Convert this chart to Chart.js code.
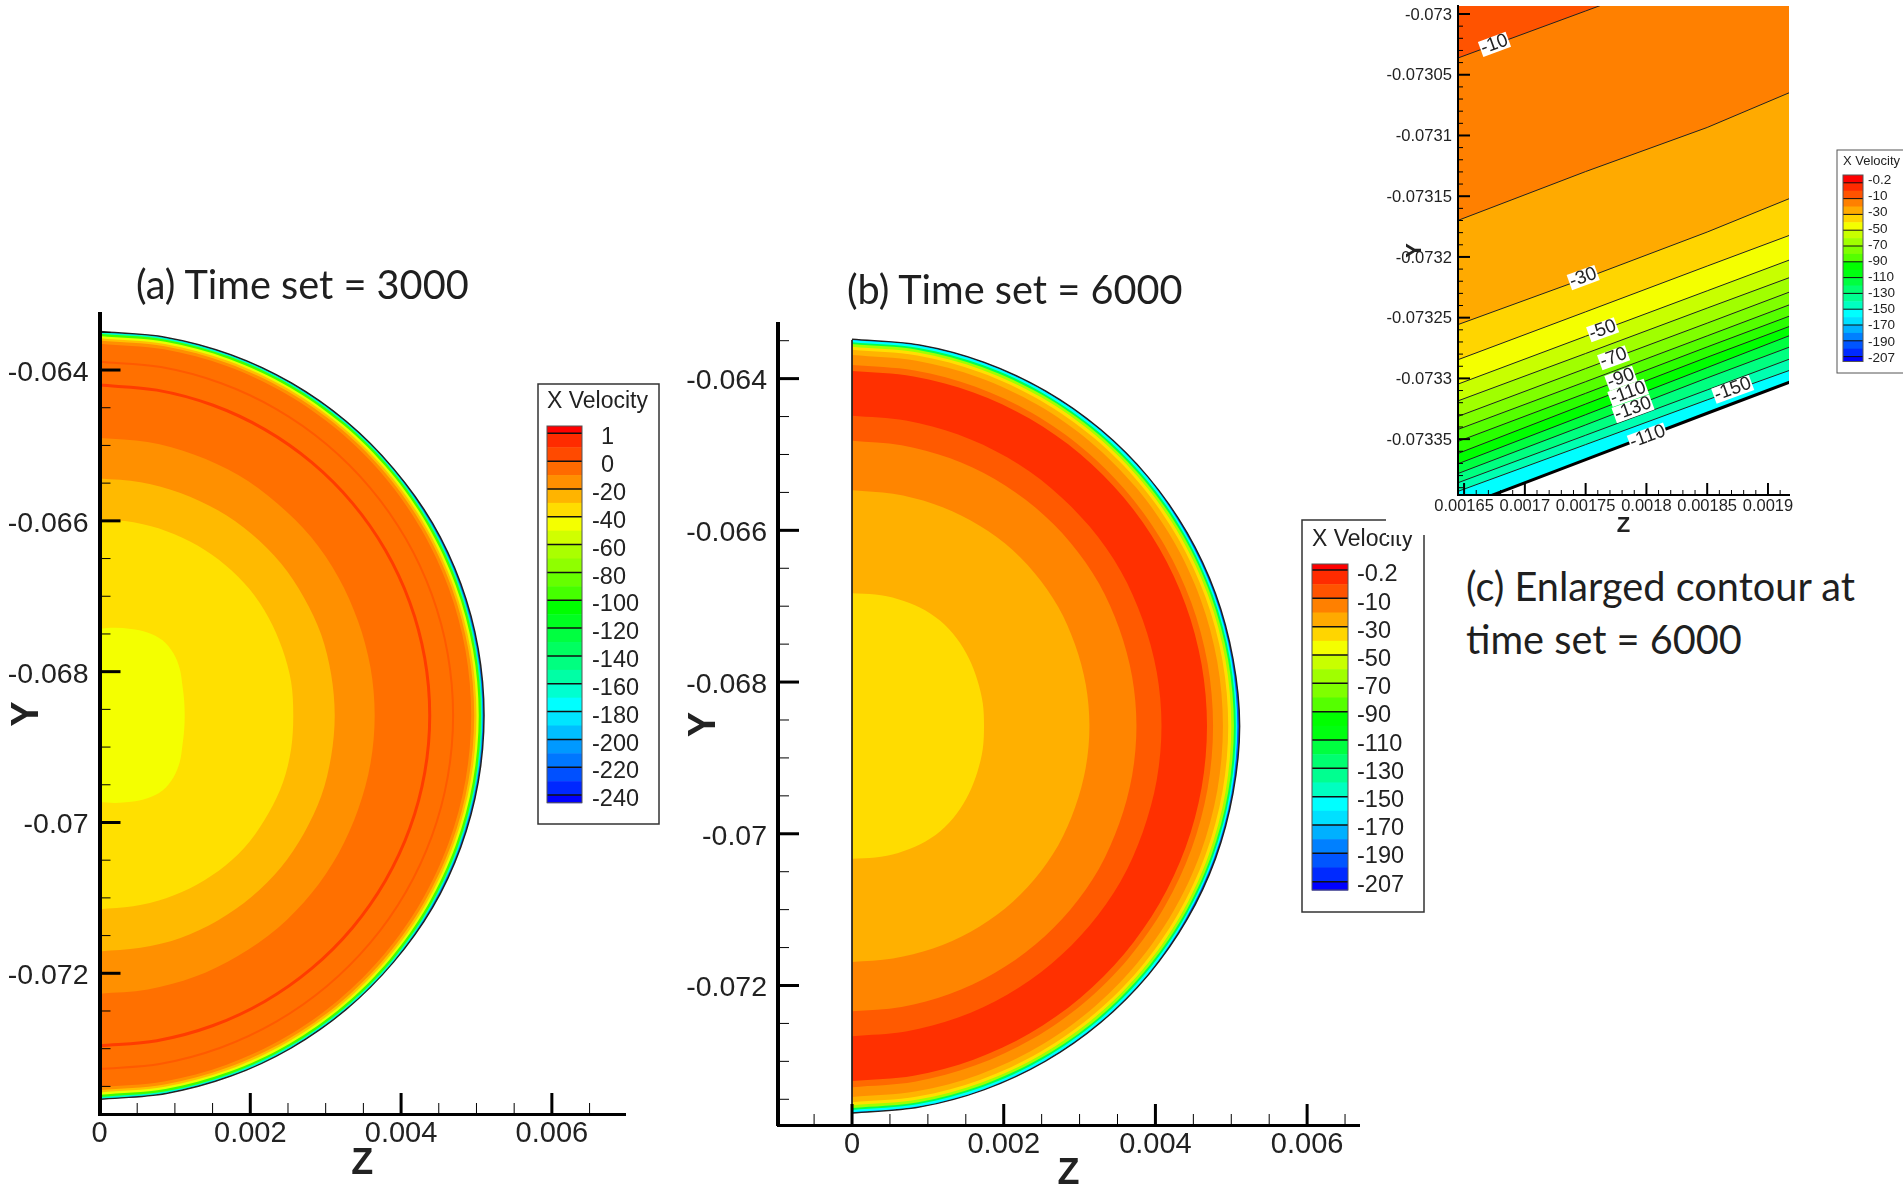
<!DOCTYPE html>
<html>
<head>
<meta charset="utf-8">
<title>X Velocity contours</title>
<script src="https://cdn.jsdelivr.net/npm/chart.js@4/dist/chart.umd.min.js"></script>
<style>
  html, body { margin: 0; padding: 0; background: #fff; overflow: hidden; width: 1903px; height: 1188px; }
  canvas { position: absolute; display: block; }
  #panel-c { background: #fff; }
  .caption { position: absolute; font-family: Lato, sans-serif; font-size: 39.7px; color: #1f1f1f; white-space: nowrap; line-height: 53px; }
</style>
</head>
<body>
<canvas id="panel-a" style="left:0;top:0"></canvas>
<canvas id="panel-b" style="left:680px;top:0"></canvas>
<canvas id="panel-c" style="left:1386px;top:-30px"></canvas>
<div class="caption" style="left:136px;top:257px">(a) Time set = 3000</div>
<div class="caption" style="left:847px;top:262px">(b) Time set = 6000</div>
<div class="caption" style="left:1466px;top:559px">(c) Enlarged contour at<br>time set = 6000</div>
<script>
// rays the contour radii were read along, degrees clockwise from the top of the half disc
const rayAngles = [0, 10, 20, 30, 40, 50, 60, 70, 80, 90, 100, 110, 120, 130, 140, 150, 160, 170, 180];
const discCenterY = -0.06858;

// panel (a), time set 3000: radii in units of 0.001, outermost contour first
const aBlue   = [5.09, 5.09, 5.09, 5.09, 5.09, 5.09, 5.10, 5.10, 5.10, 5.10, 5.10, 5.10, 5.10, 5.09, 5.09, 5.09, 5.09, 5.09, 5.09];
const aCyan   = [5.08, 5.08, 5.08, 5.08, 5.08, 5.08, 5.08, 5.08, 5.08, 5.08, 5.08, 5.08, 5.08, 5.08, 5.08, 5.08, 5.08, 5.08, 5.08];
const aGreen  = [5.06, 5.06, 5.06, 5.06, 5.06, 5.06, 5.06, 5.06, 5.06, 5.06, 5.06, 5.06, 5.06, 5.06, 5.06, 5.06, 5.06, 5.06, 5.06];
const aLime   = [5.03, 5.03, 5.03, 5.03, 5.03, 5.03, 5.03, 5.03, 5.03, 5.03, 5.03, 5.03, 5.03, 5.03, 5.03, 5.03, 5.03, 5.03, 5.03];
const aAmber  = [5.00, 5.00, 5.00, 5.00, 5.00, 5.00, 5.00, 5.00, 5.00, 5.00, 5.00, 5.00, 5.00, 5.00, 5.00, 5.00, 5.00, 5.00, 5.00];
const aOrange = [4.97, 4.97, 4.97, 4.97, 4.97, 4.97, 4.97, 4.97, 4.97, 4.97, 4.97, 4.97, 4.97, 4.97, 4.97, 4.97, 4.97, 4.97, 4.97];
const aMain   = [4.93, 4.93, 4.93, 4.93, 4.93, 4.93, 4.93, 4.93, 4.93, 4.93, 4.93, 4.93, 4.93, 4.93, 4.93, 4.93, 4.93, 4.93, 4.93];
const aBand3  = [3.69, 3.69, 3.69, 3.68, 3.68, 3.67, 3.66, 3.65, 3.65, 3.65, 3.65, 3.65, 3.66, 3.67, 3.67, 3.68, 3.68, 3.68, 3.68];
const aBand4  = [3.13, 3.13, 3.14, 3.14, 3.14, 3.14, 3.13, 3.13, 3.12, 3.12, 3.12, 3.13, 3.13, 3.14, 3.14, 3.14, 3.14, 3.14, 3.14];
const aBand5  = [2.57, 2.57, 2.58, 2.59, 2.60, 2.60, 2.59, 2.59, 2.58, 2.57, 2.58, 2.58, 2.59, 2.60, 2.60, 2.60, 2.60, 2.60, 2.60];
const aCore   = [1.15, 1.18, 1.22, 1.27, 1.30, 1.28, 1.23, 1.17, 1.14, 1.13, 1.14, 1.17, 1.23, 1.28, 1.30, 1.27, 1.22, 1.18, 1.15];
const aOuter = [aBlue, aCyan, aGreen, aLime, aAmber, aOrange, aMain];
const aOuterColors = ['#0070ff', '#00ffc0', '#40ff00', '#e8ff00', '#ffc000', '#ff9000', '#ff7000'];
const aInner = [aBand3, aBand4, aBand5, aCore];
const aInnerColors = ['#ff9000', '#ffba00', '#ffe000', '#f4ff00'];
// the two thin lines that run through the main band
const aRedLine   = [4.38, 4.38, 4.38, 4.38, 4.38, 4.38, 4.38, 4.38, 4.38, 4.38, 4.38, 4.38, 4.38, 4.38, 4.38, 4.38, 4.38, 4.38, 4.38];
const aFaintLine = [4.69, 4.69, 4.69, 4.69, 4.69, 4.69, 4.69, 4.69, 4.69, 4.69, 4.69, 4.69, 4.69, 4.69, 4.69, 4.69, 4.69, 4.69, 4.69];

// panel (b), time set 6000
const bBlue   = [5.10, 5.10, 5.10, 5.10, 5.10, 5.10, 5.10, 5.10, 5.10, 5.11, 5.10, 5.10, 5.10, 5.10, 5.10, 5.10, 5.10, 5.10, 5.10];
const bCyan   = [5.09, 5.09, 5.09, 5.09, 5.09, 5.09, 5.08, 5.08, 5.08, 5.08, 5.08, 5.08, 5.08, 5.09, 5.09, 5.09, 5.09, 5.09, 5.09];
const bGreen  = [5.06, 5.06, 5.06, 5.06, 5.06, 5.06, 5.06, 5.06, 5.06, 5.06, 5.06, 5.06, 5.06, 5.06, 5.06, 5.06, 5.06, 5.06, 5.06];
const bLime   = [5.035, 5.035, 5.035, 5.035, 5.035, 5.035, 5.035, 5.035, 5.035, 5.035, 5.035, 5.035, 5.035, 5.035, 5.035, 5.035, 5.035, 5.035, 5.035];
const bGold   = [5.00, 5.00, 5.00, 5.00, 5.00, 5.00, 5.00, 5.00, 5.00, 5.00, 5.00, 5.00, 5.00, 5.00, 5.00, 5.00, 5.00, 5.00, 5.00];
const bAmber  = [4.96, 4.96, 4.96, 4.96, 4.96, 4.96, 4.96, 4.96, 4.96, 4.96, 4.96, 4.96, 4.96, 4.96, 4.96, 4.96, 4.96, 4.96, 4.96];
const bOrange = [4.89, 4.89, 4.89, 4.89, 4.89, 4.89, 4.89, 4.89, 4.89, 4.89, 4.89, 4.89, 4.89, 4.89, 4.89, 4.89, 4.89, 4.89, 4.89];
const bDark   = [4.76, 4.76, 4.76, 4.76, 4.76, 4.76, 4.76, 4.76, 4.76, 4.76, 4.76, 4.76, 4.76, 4.76, 4.76, 4.76, 4.76, 4.76, 4.76];
const bRed    = [4.68, 4.68, 4.68, 4.68, 4.68, 4.68, 4.68, 4.68, 4.68, 4.68, 4.68, 4.68, 4.68, 4.68, 4.68, 4.68, 4.68, 4.68, 4.68];
const bBand1  = [4.09, 4.09, 4.09, 4.09, 4.09, 4.09, 4.09, 4.08, 4.08, 4.08, 4.08, 4.08, 4.09, 4.09, 4.09, 4.09, 4.09, 4.09, 4.09];
const bBand2  = [3.76, 3.76, 3.76, 3.76, 3.76, 3.76, 3.76, 3.75, 3.75, 3.75, 3.75, 3.75, 3.76, 3.76, 3.76, 3.76, 3.76, 3.76, 3.76];
const bBand3  = [3.11, 3.11, 3.12, 3.13, 3.14, 3.14, 3.14, 3.13, 3.13, 3.13, 3.13, 3.13, 3.14, 3.14, 3.14, 3.13, 3.12, 3.11, 3.11];
const bCore   = [1.75, 1.76, 1.78, 1.80, 1.81, 1.80, 1.78, 1.76, 1.75, 1.74, 1.75, 1.76, 1.78, 1.80, 1.81, 1.80, 1.78, 1.76, 1.75];
const bContours = [bBlue, bCyan, bGreen, bLime, bGold, bAmber, bOrange, bDark, bRed, bBand1, bBand2, bBand3, bCore];
const bColors = ['#0060ff', '#00ffff', '#00ff50', '#a0ff00', '#ffe000', '#ffb400', '#ff9000', '#ff6a00', '#ff3000', '#ff5a00', '#ff8500', '#ffb000', '#ffdc00'];
const bEdgeZ = [0, 0];
const bEdgeY = [-0.06349, -0.07367];

// panel (c): contour lines, top left one first
const cZ = [0.001645, 0.00175, 0.00185, 0.001918];
const cLine1  = [-0.0730362, -0.0729975, -0.0729604, -0.0729400];
const cLine2  = [-0.0731699, -0.0731297, -0.0730934, -0.0730646];
const cLine3  = [-0.0732557, -0.0732174, -0.0731795, -0.0731518];
const cLine4  = [-0.0732846, -0.0732452, -0.0732075, -0.0731821];
const cLine5  = [-0.0733047, -0.0732653, -0.0732279, -0.0732024];
const cLine6  = [-0.0733185, -0.0732795, -0.0732421, -0.0732169];
const cLine7  = [-0.0733313, -0.0732919, -0.0732545, -0.0732288];
const cLine8  = [-0.0733420, -0.0733027, -0.0732650, -0.0732393];
const cLine9  = [-0.0733519, -0.0733123, -0.0732741, -0.0732486];
const cLine10 = [-0.0733618, -0.0733211, -0.0732826, -0.0732571];
const cLine11 = [-0.0733703, -0.0733299, -0.0732911, -0.0732647];
const cLine12 = [-0.0733783, -0.0733383, -0.0732996, -0.0732741];
const cLine13 = [-0.0733859, -0.0733468, -0.0733095, -0.0732840];
const cLine14 = [-0.0733930, -0.0733545, -0.0733177, -0.0732933];
const cLine15 = [-0.0734069, -0.0733669, -0.0733287, -0.0733030];
const cLines = [cLine1, cLine2, cLine3, cLine4, cLine5, cLine6, cLine7, cLine8, cLine9, cLine10, cLine11, cLine12, cLine13, cLine14, cLine15];
const cColors = ['#ff5300', '#ff8000', '#ffaa00', '#ffd500', '#f4ff00', '#c8ff00', '#a0ff00', '#7fff00', '#55ff00', '#2aff00', '#00ff00', '#00ff40', '#00ff80', '#00ffb0', '#00ffff'];
const cLabelText = ['-10', '-30', '-50', '-70', '-90', '-110', '-130', '-150', '-110'];
const cLabelZ = [0.001675, 0.001748, 0.001764, 0.001773, 0.001779, 0.001785, 0.001789, 0.001871, 0.001801];
const cLabelY = [-0.073025, -0.073217, -0.073260, -0.073283, -0.073300, -0.073312, -0.073325, -0.073309, -0.073348];

// tick values
const aXTicks = [0, 0.002, 0.004, 0.006];
const aXMinor = [0.0005, 0.001, 0.0015, 0.0025, 0.003, 0.0035, 0.0045, 0.005, 0.0055, 0.0065];
const bXTicks = [0, 0.002, 0.004, 0.006];
const bXMinor = [-0.0005, 0.0005, 0.001, 0.0015, 0.0025, 0.003, 0.0035, 0.0045, 0.005, 0.0055, 0.0065];
const discYTicks = [-0.072, -0.07, -0.068, -0.066, -0.064];
const discYMinor = [-0.0735, -0.073, -0.0725, -0.0715, -0.071, -0.0705, -0.0695, -0.069, -0.0685, -0.0675, -0.067, -0.0665, -0.0655, -0.065, -0.0645, -0.0635];
const cXTicks = [0.00165, 0.0017, 0.00175, 0.0018, 0.00185, 0.0019];
const cXMinor = [0.00166, 0.00167, 0.00168, 0.00169, 0.00171, 0.00172, 0.00173, 0.00174, 0.00176, 0.00177, 0.00178, 0.00179, 0.00181, 0.00182, 0.00183, 0.00184, 0.00186, 0.00187, 0.00188, 0.00189, 0.00191];
const cYTicks = [-0.07335, -0.0733, -0.07325, -0.0732, -0.07315, -0.0731, -0.07305, -0.073];
const cYMinor = [-0.07339, -0.07338, -0.07337, -0.07336, -0.07334, -0.07333, -0.07332, -0.07331, -0.07329, -0.07328, -0.07327, -0.07326, -0.07324, -0.07323, -0.07322, -0.07321, -0.07319, -0.07318, -0.07317, -0.07316, -0.07314, -0.07313, -0.07312, -0.07311, -0.07309, -0.07308, -0.07307, -0.07306, -0.07304, -0.07303, -0.07302, -0.07301];

// colour bar legends
const aLegendLabels = ['1', '0', '-20', '-40', '-60', '-80', '-100', '-120', '-140', '-160', '-180', '-200', '-220', '-240'];
const aLegendColors = ['#ff0000', '#ff2b00', '#ff4a00', '#ff6a00', '#ff8f00', '#ffb400', '#ffdc00', '#f4ff00', '#d0ff00', '#aaff00', '#8fff00', '#66ff00', '#45ff00', '#00ff00', '#00ff20', '#00ff40', '#00ff60', '#00ff80', '#00ffa5', '#00ffd0', '#00ffff', '#00e5ff', '#00bfff', '#0099ff', '#0077ff', '#0050ff', '#0028ff', '#0000ff'];
const bLegendLabels = ['-0.2', '-10', '-30', '-50', '-70', '-90', '-110', '-130', '-150', '-170', '-190', '-207'];
const bLegendColors = ['#ff0000', '#ff2b00', '#ff5300', '#ff8000', '#ffaa00', '#ffd500', '#f4ff00', '#c8ff00', '#a0ff00', '#7fff00', '#55ff00', '#00ff00', '#00ff10', '#00ff40', '#00ff70', '#00ff90', '#00ffc0', '#00ffff', '#00e0ff', '#00b0ff', '#0080ff', '#0055ff', '#002aff', '#0000ff'];

Chart.defaults.font.family = '"Liberation Sans", Arial, sans-serif';
Chart.defaults.color = '#222';
Chart.defaults.animation = false;

function discPoints(radii) {
  return radii.map((r, i) => {
    const a = rayAngles[i] * Math.PI / 180;
    return { x: r * Math.sin(a) / 1000, y: discCenterY - r * Math.cos(a) / 1000 };
  });
}

function contourDatasets(contours, colors, outlined) {
  // dataset 0 is painted last, so the innermost contour goes first
  return contours.map((radii, i) => ({
    data: discPoints(radii),
    bandColor: colors[i],
    borderWidth: outlined && i === 0 ? 1.5 : 0,
    borderColor: '#222',
    tension: 0.33,
    pointRadius: 0,
  })).reverse();
}

function thinLine(radii, color, width) {
  return { data: discPoints(radii), borderColor: color, borderWidth: width, tension: 0.33, pointRadius: 0 };
}

// fills a closed contour with its colour just before the line is stroked
const bandFill = {
  id: 'bandFill',
  beforeDatasetDraw(chart, args) {
    const ds = chart.data.datasets[args.index];
    if (!ds.bandColor) return;
    const line = args.meta.dataset;
    const { ctx, chartArea } = chart;
    line.updateControlPoints(chartArea, 'x');
    ctx.save();
    ctx.beginPath();
    line.path(ctx);
    ctx.closePath();
    ctx.fillStyle = ds.bandColor;
    ctx.fill();
    ctx.restore();
  },
};

function tickMarks(cfg) {
  return {
    id: 'tickMarks',
    afterDatasetsDraw(chart) {
      const { ctx, chartArea, scales } = chart;
      ctx.save();
      ctx.strokeStyle = '#000';
      const draw = (values, len, width, isX) => {
        ctx.lineWidth = width;
        values.forEach(v => {
          ctx.beginPath();
          if (isX) {
            const px = scales.x.getPixelForValue(v);
            ctx.moveTo(px, chartArea.bottom);
            ctx.lineTo(px, chartArea.bottom - len);
          } else {
            const py = scales.y.getPixelForValue(v);
            ctx.moveTo(chartArea.left, py);
            ctx.lineTo(chartArea.left + len, py);
          }
          ctx.stroke();
        });
      };
      draw(cfg.xMinor, cfg.minorLen, cfg.minorWidth, true);
      draw(cfg.yMinor, cfg.minorLen, cfg.minorWidth, false);
      draw(cfg.xTicks, cfg.majorLen, cfg.majorWidth, true);
      draw(cfg.yTicks, cfg.majorLen, cfg.majorWidth, false);
      ctx.restore();
    },
  };
}

function colorLegend(cfg) {
  return {
    id: 'colorLegend',
    afterDraw(chart) {
      const { ctx } = chart;
      ctx.save();
      ctx.strokeStyle = cfg.boxColor;
      ctx.lineWidth = cfg.boxWidth;
      ctx.strokeRect(cfg.box[0], cfg.box[1], cfg.box[2], cfg.box[3]);
      ctx.fillStyle = '#222';
      ctx.textBaseline = 'middle';
      ctx.textAlign = 'left';
      ctx.font = cfg.titleSize + 'px "Liberation Sans"';
      ctx.fillText('X Velocity', cfg.barX, cfg.titleY);
      // red cap, then two shades between each pair of black lines, then blue cap
      const half = cfg.step / 2;
      const n = cfg.colors.length;
      cfg.colors.forEach((color, i) => {
        let top, bottom;
        if (i === 0) { top = cfg.barTop; bottom = cfg.firstLine; }
        else if (i === n - 1) { top = cfg.firstLine + half * (n - 2); bottom = cfg.barBottom; }
        else { top = cfg.firstLine + half * (i - 1); bottom = top + half; }
        ctx.fillStyle = color;
        ctx.fillRect(cfg.barX, top, cfg.barW, bottom - top + 0.5);
      });
      ctx.strokeStyle = '#111';
      ctx.lineWidth = cfg.lineWidth;
      for (let i = 0; i <= (n - 2) / 2; i++) {
        const y = cfg.firstLine + cfg.step * i;
        ctx.beginPath();
        ctx.moveTo(cfg.barX, y);
        ctx.lineTo(cfg.barX + cfg.barW, y);
        ctx.stroke();
      }
      ctx.strokeStyle = '#555';
      ctx.lineWidth = 1;
      ctx.strokeRect(cfg.barX, cfg.barTop, cfg.barW, cfg.barBottom - cfg.barTop);
      ctx.fillStyle = '#222';
      ctx.font = cfg.labelSize + 'px "Liberation Sans"';
      cfg.labels.forEach((text, i) => {
        const x = text[0] === '-' ? cfg.labelX : cfg.labelX + cfg.plainShift;
        ctx.fillText(text, x, cfg.labelY + cfg.labelStep * i);
      });
      ctx.restore();
    },
  };
}

const contourLabels = {
  id: 'contourLabels',
  afterDatasetsDraw(chart) {
    const { ctx, scales, chartArea } = chart;
    ctx.save();
    ctx.beginPath();
    ctx.rect(chartArea.left, chartArea.top, chartArea.width, chartArea.height);
    ctx.clip();
    ctx.font = '19px "Liberation Sans"';
    ctx.textAlign = 'center';
    ctx.textBaseline = 'middle';
    cLabelText.forEach((text, i) => {
      const x = scales.x.getPixelForValue(cLabelZ[i]);
      const y = scales.y.getPixelForValue(cLabelY[i]);
      const w = ctx.measureText(text).width + 2;
      ctx.save();
      ctx.translate(x, y);
      ctx.rotate(-20 * Math.PI / 180);
      ctx.fillStyle = '#fff';
      ctx.fillRect(-w / 2, -8, w, 16);
      ctx.fillStyle = '#222';
      ctx.fillText(text, 0, 0);
      ctx.restore();
    });
    ctx.restore();
  },
};

// scale options with a fixed plot box, so the panels line up with the reference
function xScale(cfg) {
  return {
    type: 'linear',
    min: cfg.min,
    max: cfg.max,
    afterBuildTicks: s => { s.ticks = cfg.ticks.map(value => ({ value })); },
    afterFit: s => { s.height = cfg.size; },
    grid: { display: false, drawTicks: false },
    border: { display: true, color: '#000', width: cfg.lineWidth, z: 1 },
    ticks: { font: { size: cfg.font }, padding: cfg.pad, autoSkip: false, maxRotation: 0, color: '#222', callback: v => String(v) },
    title: { display: true, text: 'Z', font: { size: cfg.titleFont, weight: 'bold' }, color: '#222', padding: cfg.titlePad },
  };
}

function yScale(cfg) {
  return {
    type: 'linear',
    min: cfg.min,
    max: cfg.max,
    afterBuildTicks: s => { s.ticks = cfg.ticks.map(value => ({ value })); },
    afterFit: s => { s.width = cfg.size; },
    grid: { display: false, drawTicks: false },
    border: { display: true, color: '#000', width: cfg.lineWidth, z: 1 },
    ticks: { font: { size: cfg.font }, padding: cfg.pad, labelOffset: cfg.labelOffset, autoSkip: false, color: '#222', callback: v => String(v) },
    title: { display: true, text: 'Y', font: { size: cfg.titleFont, weight: 'bold' }, color: '#222', padding: cfg.titlePad },
  };
}

function makeChart(id, width, height, datasets, padding, scales, plugins) {
  const canvas = document.getElementById(id);
  canvas.width = width;
  canvas.height = height;
  canvas.style.width = width + 'px';
  canvas.style.height = height + 'px';
  return new Chart(canvas, {
    type: 'line',
    data: { datasets },
    options: {
      responsive: false,
      animation: false,
      layout: { padding },
      scales,
      plugins: { legend: { display: false }, title: { display: false }, tooltip: { enabled: false } },
    },
    plugins,
  });
}

document.addEventListener('DOMContentLoaded', () => {
  makeChart('panel-a', 680, 1188,
    [
      ...contourDatasets(aInner, aInnerColors, false),
      thinLine(aRedLine, '#ff3c00', 3),
      thinLine(aFaintLine, '#ff5a00', 2),
      ...contourDatasets(aOuter, aOuterColors, true),
    ],
    { top: 314, right: 55 },
    {
      x: xScale({ min: 0, max: 0.00697, ticks: aXTicks, size: 74, lineWidth: 3, font: 29, pad: 3, titleFont: 36, titlePad: { top: 0, bottom: 2 } }),
      y: yScale({ min: -0.073866, max: -0.063257, ticks: discYTicks, size: 99.5, lineWidth: 4, font: 28.5, pad: 11, labelOffset: 3, titleFont: 38, titlePad: { top: 4.5, bottom: 0 } }),
    },
    [bandFill,
      tickMarks({ xTicks: aXTicks, xMinor: aXMinor, yTicks: discYTicks, yMinor: discYMinor, majorLen: 21, minorLen: 11, majorWidth: 3, minorWidth: 1 }),
      colorLegend({ box: [538, 384, 121, 440], boxColor: '#333', boxWidth: 1.5, titleSize: 23, labelSize: 23.5, barX: 547, barW: 35, barTop: 426, barBottom: 802.7, firstLine: 433.3, step: 27.83, lineWidth: 1.5, colors: aLegendColors, labels: aLegendLabels, titleY: 402, labelX: 592, plainShift: 9, labelY: 438, labelStep: 27.83 })]
  );

  const bEdge = { data: bEdgeZ.map((z, i) => ({ x: z, y: bEdgeY[i] })), borderColor: '#222', borderWidth: 1, pointRadius: 0 };
  makeChart('panel-b', 750, 1200,
    [bEdge, ...contourDatasets(bContours, bColors, true)],
    { top: 324, right: 71 },
    {
      x: xScale({ min: -0.000976, max: 0.006684, ticks: bXTicks, size: 75, lineWidth: 3, font: 29, pad: 3, titleFont: 36, titlePad: { top: 0, bottom: 4 } }),
      y: yScale({ min: -0.073839, max: -0.06328, ticks: discYTicks, size: 98, lineWidth: 4, font: 28.5, pad: 11, labelOffset: 3, titleFont: 38, titlePad: { top: 1.7, bottom: 0 } }),
    },
    [bandFill,
      tickMarks({ xTicks: bXTicks, xMinor: bXMinor, yTicks: discYTicks, yMinor: discYMinor, majorLen: 21, minorLen: 11, majorWidth: 3, minorWidth: 1 }),
      colorLegend({ box: [622, 520, 122, 392], boxColor: '#333', boxWidth: 1.5, titleSize: 23, labelSize: 23.5, barX: 632, barW: 36, barTop: 564, barBottom: 890, firstLine: 570, step: 28.33, lineWidth: 1.5, colors: bLegendColors, labels: bLegendLabels, titleY: 540, labelX: 677, plainShift: 0, labelY: 575, labelStep: 28.2 })]
  );

  // every line fills up to the top of the plot; the lowest one is painted first
  const cDatasets = cLines.map((ys, i) => ({
    data: ys.map((y, k) => ({ x: cZ[k], y })),
    borderColor: i === cLines.length - 1 ? '#000' : '#222',
    borderWidth: i === cLines.length - 1 ? 3 : 1,
    backgroundColor: cColors[i],
    fill: 'end',
    pointRadius: 0,
  }));
  makeChart('panel-c', 517, 565,
    cDatasets,
    { top: 36, right: 114 },
    {
      x: xScale({ min: 0.001645, max: 0.0019173, ticks: cXTicks, size: 40, lineWidth: 2, font: 16.5, pad: 2, titleFont: 22, titlePad: { top: 0, bottom: -4 } }),
      y: yScale({ min: -0.073396, max: -0.0729934, ticks: cYTicks, size: 72, lineWidth: 2, font: 16.6, pad: 6, labelOffset: 1, titleFont: 22, titlePad: { top: 16, bottom: 0 } }),
    },
    [contourLabels,
      tickMarks({ xTicks: cXTicks, xMinor: cXMinor, yTicks: cYTicks, yMinor: cYMinor, majorLen: 12, minorLen: 5, majorWidth: 2, minorWidth: 1 }),
      colorLegend({ box: [451, 180, 90, 223], boxColor: '#555', boxWidth: 1, titleSize: 13, labelSize: 13.5, barX: 457, barW: 20, barTop: 205, barBottom: 391.5, firstLine: 212.8, step: 15.8, lineWidth: 1, colors: bLegendColors, labels: bLegendLabels, titleY: 191, labelX: 482, plainShift: 0, labelY: 210.4, labelStep: 16.15 })]
  );
});
</script>
</body>
</html>
